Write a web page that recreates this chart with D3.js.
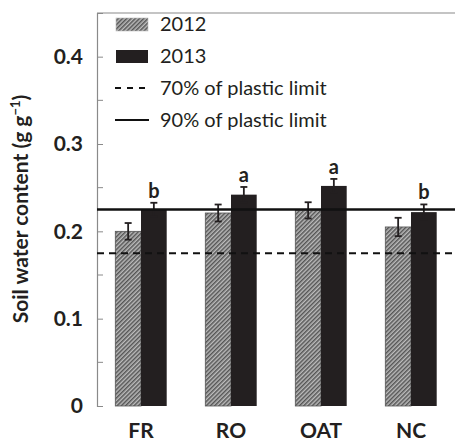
<!DOCTYPE html>
<html><head><meta charset="utf-8">
<script src="https://cdn.jsdelivr.net/npm/d3@7"></script>
<style>body{margin:0;background:#fff;} svg{display:block;}</style>
</head><body>
<script>
const categories = ["FR", "RO", "OAT", "NC"];
const series = ["2012", "2013"];
const values2012 = [0.200, 0.221, 0.224, 0.205];
const values2013 = [0.225, 0.242, 0.252, 0.222];
const errors2012 = [0.0095, 0.0097, 0.0093, 0.0105];
const errors2013 = [0.0077, 0.0088, 0.0080, 0.0088];
const letters2013 = ["b", "a", "a", "b"];
const refLines = [{label: "70% of plastic limit", value: 0.175, dash: "7,5"}, {label: "90% of plastic limit", value: 0.225, dash: null}];
const yTicks = [0, 0.1, 0.2, 0.3, 0.4];
const yTickLabels = ["0", "0.1", "0.2", "0.3", "0.4"];
const yMinorTicks = [0.05, 0.15, 0.25, 0.35];
const yTitle = "Soil water content (g g";

const W = 455, H = 444;
const m = {left: 97, right: 0, top: 13, bottom: 38};
const font = "Lato, 'Open Sans', sans-serif";
const svg = d3.select("body").append("svg").attr("width", W).attr("height", H);

const defs = svg.append("defs");
const pat = defs.append("pattern").attr("id", "hatch").attr("patternUnits", "userSpaceOnUse")
  .attr("width", 3).attr("height", 3).attr("patternTransform", "rotate(45)");
pat.append("rect").attr("width", 3).attr("height", 3).attr("fill", "#bcbcbc");
pat.append("rect").attr("width", 1.5).attr("height", 3).attr("fill", "#555");

const x = d3.scaleBand().domain(categories).range([m.left - 1, W + 1]);
const xs = d3.scaleBand().domain(series).range([x.bandwidth()/2 - 25.7, x.bandwidth()/2 + 25.7]);
const y = d3.scaleLinear().domain([0, 0.45]).range([H - m.bottom, m.top]);

// frame
svg.append("line").attr("x1", m.left).attr("x2", W).attr("y1", m.top).attr("y2", m.top).attr("stroke", "#8a8a8a").attr("stroke-width", 1.2);

// axis
const yAxis = d3.axisLeft(y).tickValues(yTicks).tickFormat((d, i) => yTickLabels[i]).tickSize(-6).tickPadding(14);
const ga = svg.append("g").attr("transform", `translate(${m.left},0)`).call(yAxis);
ga.select(".domain").attr("stroke", "#8a8a8a").attr("stroke-width", 1.2);
ga.selectAll(".tick line").attr("stroke", "#8a8a8a");
ga.selectAll(".tick text").attr("font-family", font).attr("font-weight", "bold").attr("font-size", 21).attr("fill", "#231f20");
svg.append("g").selectAll("line").data(yMinorTicks).join("line")
  .attr("x1", m.left).attr("x2", m.left + 6).attr("y1", d => y(d)).attr("y2", d => y(d)).attr("stroke", "#8a8a8a");

// bars
const data = categories.map((c, i) => ({c, v: [values2012[i], values2013[i]], e: [errors2012[i], errors2013[i]], l: letters2013[i]}));
const g = svg.append("g");
data.forEach(d => {
  series.forEach((s, j) => {
    const bx = x(d.c) + xs(s), bw = xs.bandwidth();
    g.append("rect").attr("x", bx).attr("y", y(d.v[j])).attr("width", bw).attr("height", y(0) - y(d.v[j]))
      .attr("fill", j === 0 ? "url(#hatch)" : "#231f20")
      .attr("stroke", j === 0 ? "#555" : "#231f20").attr("stroke-width", j === 0 ? 0.8 : 0);
  });
});

// reference lines
refLines.forEach(r => {
  svg.append("line").attr("x1", m.left).attr("x2", W).attr("y1", y(r.value)).attr("y2", y(r.value))
    .attr("stroke", "#111").attr("stroke-width", r.dash ? 2 : 2.5).attr("stroke-dasharray", r.dash);
});

// error bars
data.forEach(d => {
  series.forEach((s, j) => {
    const cx = x(d.c) + xs(s) + xs.bandwidth()/2;
    const top = y(d.v[j] + d.e[j]), bot = y(d.v[j] - d.e[j]);
    const col = "#231f20";
    g.append("line").attr("x1", cx).attr("x2", cx).attr("y1", top).attr("y2", bot).attr("stroke", col).attr("stroke-width", 1.8);
    g.append("line").attr("x1", cx - 3.5).attr("x2", cx + 3.5).attr("y1", top).attr("y2", top).attr("stroke", col).attr("stroke-width", 1.8);
    g.append("line").attr("x1", cx - 3.5).attr("x2", cx + 3.5).attr("y1", bot).attr("y2", bot).attr("stroke", col).attr("stroke-width", 1.8);
  });
  const cx2 = x(d.c) + xs("2013") + xs.bandwidth()/2;
  svg.append("text").attr("x", cx2).attr("y", y(d.v[1] + d.e[1]) - 5).attr("text-anchor", "middle")
    .attr("font-family", font).attr("font-weight", "bold").attr("font-size", 20).attr("fill", "#231f20").text(d.l);
});

// category labels
svg.append("g").selectAll("text").data(categories).join("text")
  .attr("x", d => x(d) + x.bandwidth()/2).attr("y", 438).attr("text-anchor", "middle")
  .attr("font-family", font).attr("font-weight", "bold").attr("font-size", 21).attr("fill", "#231f20").text(d => d);

// y title
const t = svg.append("text").attr("transform", `translate(28,209) rotate(-90)`).attr("text-anchor", "middle")
  .attr("font-family", font).attr("font-weight", "bold").attr("font-size", 21).attr("fill", "#231f20");
t.append("tspan").text(yTitle);
t.append("tspan").attr("dy", -8).attr("font-size", 13).text("−1");
t.append("tspan").attr("dy", 8).text(")");

// legend
const lg = svg.append("g").attr("font-family", font).attr("font-size", 20).attr("fill", "#231f20");
const legendItems = [
  {label: series[0], type: "hatch"}, {label: series[1], type: "solid"},
  {label: refLines[0].label, type: "dash"}, {label: refLines[1].label, type: "line"}
];
legendItems.forEach((it, i) => {
  const cy = 24 + i * 32;
  if (it.type === "hatch") lg.append("rect").attr("x", 116).attr("y", cy - 6).attr("width", 32).attr("height", 13).attr("fill", "url(#hatch)").attr("stroke", "#bbb").attr("stroke-width", 0.6);
  else if (it.type === "solid") lg.append("rect").attr("x", 116).attr("y", cy - 6).attr("width", 32).attr("height", 13).attr("fill", "#231f20");
  else lg.append("line").attr("x1", 115).attr("x2", 149).attr("y1", cy).attr("y2", cy).attr("stroke", "#111").attr("stroke-width", 2.2).attr("stroke-dasharray", it.type === "dash" ? "6,6" : null);
  lg.append("text").attr("x", 160).attr("y", cy + 7).text(it.label);
});
</script>
</body></html>
